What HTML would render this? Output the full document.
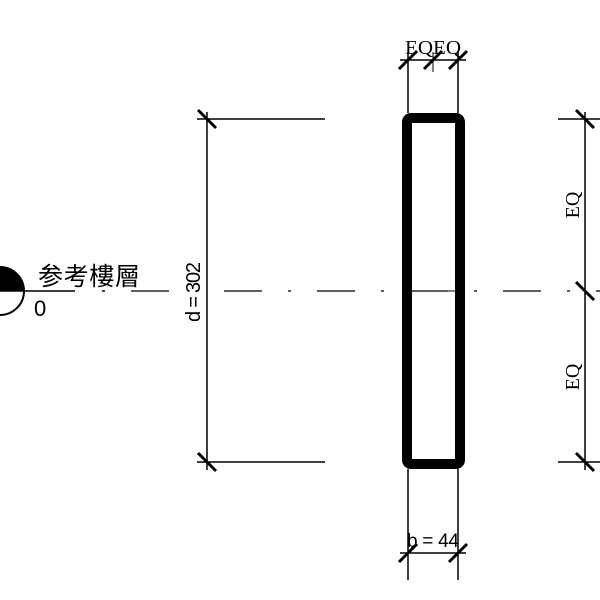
<!DOCTYPE html>
<html><head><meta charset="utf-8"><style>html,body{margin:0;padding:0;background:#fff}svg{display:block}</style></head>
<body>
<svg width="600" height="600" viewBox="0 0 600 600" xmlns="http://www.w3.org/2000/svg">
<g stroke="#000" fill="none">
<circle cx="0" cy="291" r="24" stroke-width="2"/>
<path d="M0 291 L0 267 A24 24 0 0 1 24 291 Z" fill="#000" stroke="none"/>
<line x1="0" y1="291" x2="75" y2="291" stroke-width="1.5"/>
<line x1="102" y1="291" x2="105" y2="291" stroke-width="1.5"/>
<line x1="131" y1="291" x2="600" y2="291" stroke-width="1.3" stroke-dasharray="38 26 3 26"/>
<line x1="197" y1="119" x2="325" y2="119" stroke-width="1.5"/>
<line x1="197" y1="462" x2="325" y2="462" stroke-width="1.5"/>
<line x1="207" y1="112" x2="207" y2="470" stroke-width="1.5"/>
<line x1="198" y1="110" x2="216" y2="128" stroke-width="3"/>
<line x1="198" y1="453" x2="216" y2="471" stroke-width="3"/>
<rect x="407" y="118" width="53" height="346" rx="4" stroke-width="10"/>
<line x1="412" y1="291" x2="455" y2="291" stroke-width="1"/>
<line x1="408" y1="52" x2="408" y2="113" stroke-width="1.5"/>
<line x1="458" y1="52" x2="458" y2="113" stroke-width="1.5"/>
<line x1="433" y1="52" x2="433" y2="72" stroke-width="1"/>
<line x1="400" y1="60" x2="466" y2="60" stroke-width="1.5"/>
<line x1="399" y1="69" x2="417" y2="51" stroke-width="3"/>
<line x1="424" y1="69" x2="442" y2="51" stroke-width="3"/>
<line x1="449" y1="69" x2="467" y2="51" stroke-width="3"/>
<line x1="408" y1="469" x2="408" y2="580" stroke-width="1.5"/>
<line x1="458" y1="469" x2="458" y2="580" stroke-width="1.5"/>
<line x1="400" y1="553" x2="466" y2="553" stroke-width="1.5"/>
<line x1="399" y1="562" x2="417" y2="544" stroke-width="3"/>
<line x1="449" y1="562" x2="467" y2="544" stroke-width="3"/>
<line x1="558" y1="119" x2="600" y2="119" stroke-width="1.5"/>
<line x1="558" y1="462" x2="600" y2="462" stroke-width="1.5"/>
<line x1="585" y1="112" x2="585" y2="470" stroke-width="1.5"/>
<line x1="576" y1="110" x2="594" y2="128" stroke-width="3"/>
<line x1="576" y1="282" x2="594" y2="300" stroke-width="3"/>
<line x1="576" y1="453" x2="594" y2="471" stroke-width="3"/>
</g>
<g fill="#000">
<text x="38" y="285" font-family="Liberation Sans, Noto Sans CJK TC, sans-serif" font-size="25" textLength="102">参考樓層</text>
<text x="34" y="316" font-family="Liberation Sans, sans-serif" font-size="22">0</text>
<text x="433" y="54" text-anchor="middle" font-family="Liberation Serif, serif" font-size="20" textLength="56" lengthAdjust="spacingAndGlyphs">EQEQ</text>
<text x="433" y="547" text-anchor="middle" font-family="Liberation Sans, sans-serif" font-size="19" textLength="52">b = 44</text>
<text transform="translate(200,292) rotate(-90)" text-anchor="middle" font-family="Liberation Sans, sans-serif" font-size="20" textLength="60">d = 302</text>
<text transform="translate(579,205) rotate(-90)" text-anchor="middle" font-family="Liberation Serif, serif" font-size="20">EQ</text>
<text transform="translate(579,377) rotate(-90)" text-anchor="middle" font-family="Liberation Serif, serif" font-size="20">EQ</text>
</g>
</svg>
</body></html>
